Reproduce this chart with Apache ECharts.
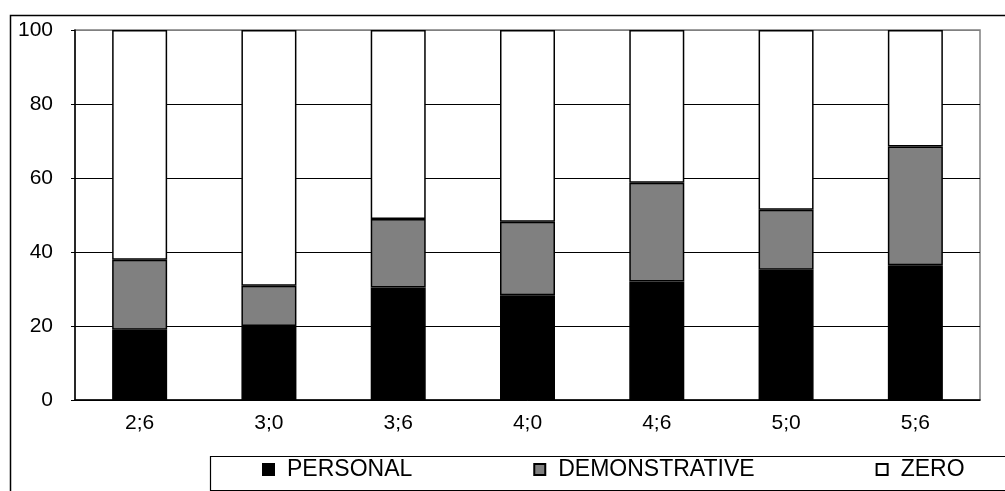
<!DOCTYPE html>
<html>
<head>
    <meta charset="utf-8">
    <script src="https://cdn.jsdelivr.net/npm/echarts@6/dist/echarts.min.js"></script>
</head>
<body style="margin:0;background-color:#ffffff">
    <div id="main" style="width:1005px;height:491px;"></div>
    <script type="text/javascript">
        // ages (years;months) along the x axis
        var ages = ['2;6', '3;0', '3;6', '4;0', '4;6', '5;0', '5;6'];
        // percent of each reference type, stacked to 100
        var personal      = [19.0, 20.0, 30.4, 28.3, 32.0, 35.2, 36.4];
        var demonstrative = [18.9, 10.9, 18.5, 19.9, 26.7, 16.2, 32.1];
        var zero          = [62.1, 69.1, 51.1, 51.8, 41.3, 48.6, 31.5];
        var yTicks = [0, 20, 40, 60, 80, 100];

        var myChart = echarts.init(document.getElementById('main'));
        var font = '"Liberation Sans", Arial, sans-serif';

        function bar(name, data, color) {
            return {
                name: name,
                type: 'bar',
                stack: 'all',
                data: data,
                barWidth: 55,
                itemStyle: { color: color, borderColor: '#000', borderWidth: 1.5 }
            };
        }

        var option = {
            animation: false,
            backgroundColor: '#fff',
            textStyle: { fontFamily: font, color: '#000' },
            graphic: [
                {   // outer frame
                    type: 'rect', left: 8, top: 13,
                    shape: { width: 1010, height: 490 },
                    style: { fill: 'none', stroke: '#000', lineWidth: 1.5 }
                },
                {   // legend box
                    type: 'rect', left: 208, top: 454,
                    shape: { width: 810, height: 34 },
                    style: { fill: 'none', stroke: '#000', lineWidth: 1.2 }
                }
            ],
            grid: {
                left: 75, right: 25, top: 30, bottom: 91,
                show: true, borderColor: '#808080', borderWidth: 1.5
            },
            legend: {
                left: 262, top: 458, padding: 0,
                itemWidth: 11, itemHeight: 11, itemGap: 121,
                icon: 'rect',
                textStyle: { fontFamily: font, fontSize: 23, color: '#000', padding: [0, 0, 0, 8] },
                data: ['PERSONAL', 'DEMONSTRATIVE', 'ZERO']
            },
            xAxis: {
                type: 'category',
                data: ages,
                axisLine: { lineStyle: { color: '#000', width: 1.5 } },
                axisTick: { length: 5, lineStyle: { color: '#000' } },
                axisLabel: { margin: 13, fontSize: 21, color: '#000', fontFamily: font }
            },
            yAxis: {
                type: 'value',
                min: yTicks[0],
                max: yTicks[yTicks.length - 1],
                interval: 20,
                axisLine: { show: true, lineStyle: { color: '#000', width: 1.5 } },
                axisTick: { show: true, length: 4, lineStyle: { color: '#000' } },
                axisLabel: { margin: 22, fontSize: 21, color: '#000', fontFamily: font },
                splitLine: { lineStyle: { color: ['#000', '#000', '#000', '#000', '#000', '#808080'], width: 1 } }
            },
            series: [
                bar('PERSONAL', personal, '#000000'),
                bar('DEMONSTRATIVE', demonstrative, '#808080'),
                bar('ZERO', zero, '#ffffff')
            ]
        };
        myChart.setOption(option);
    </script>
</body>
</html>
